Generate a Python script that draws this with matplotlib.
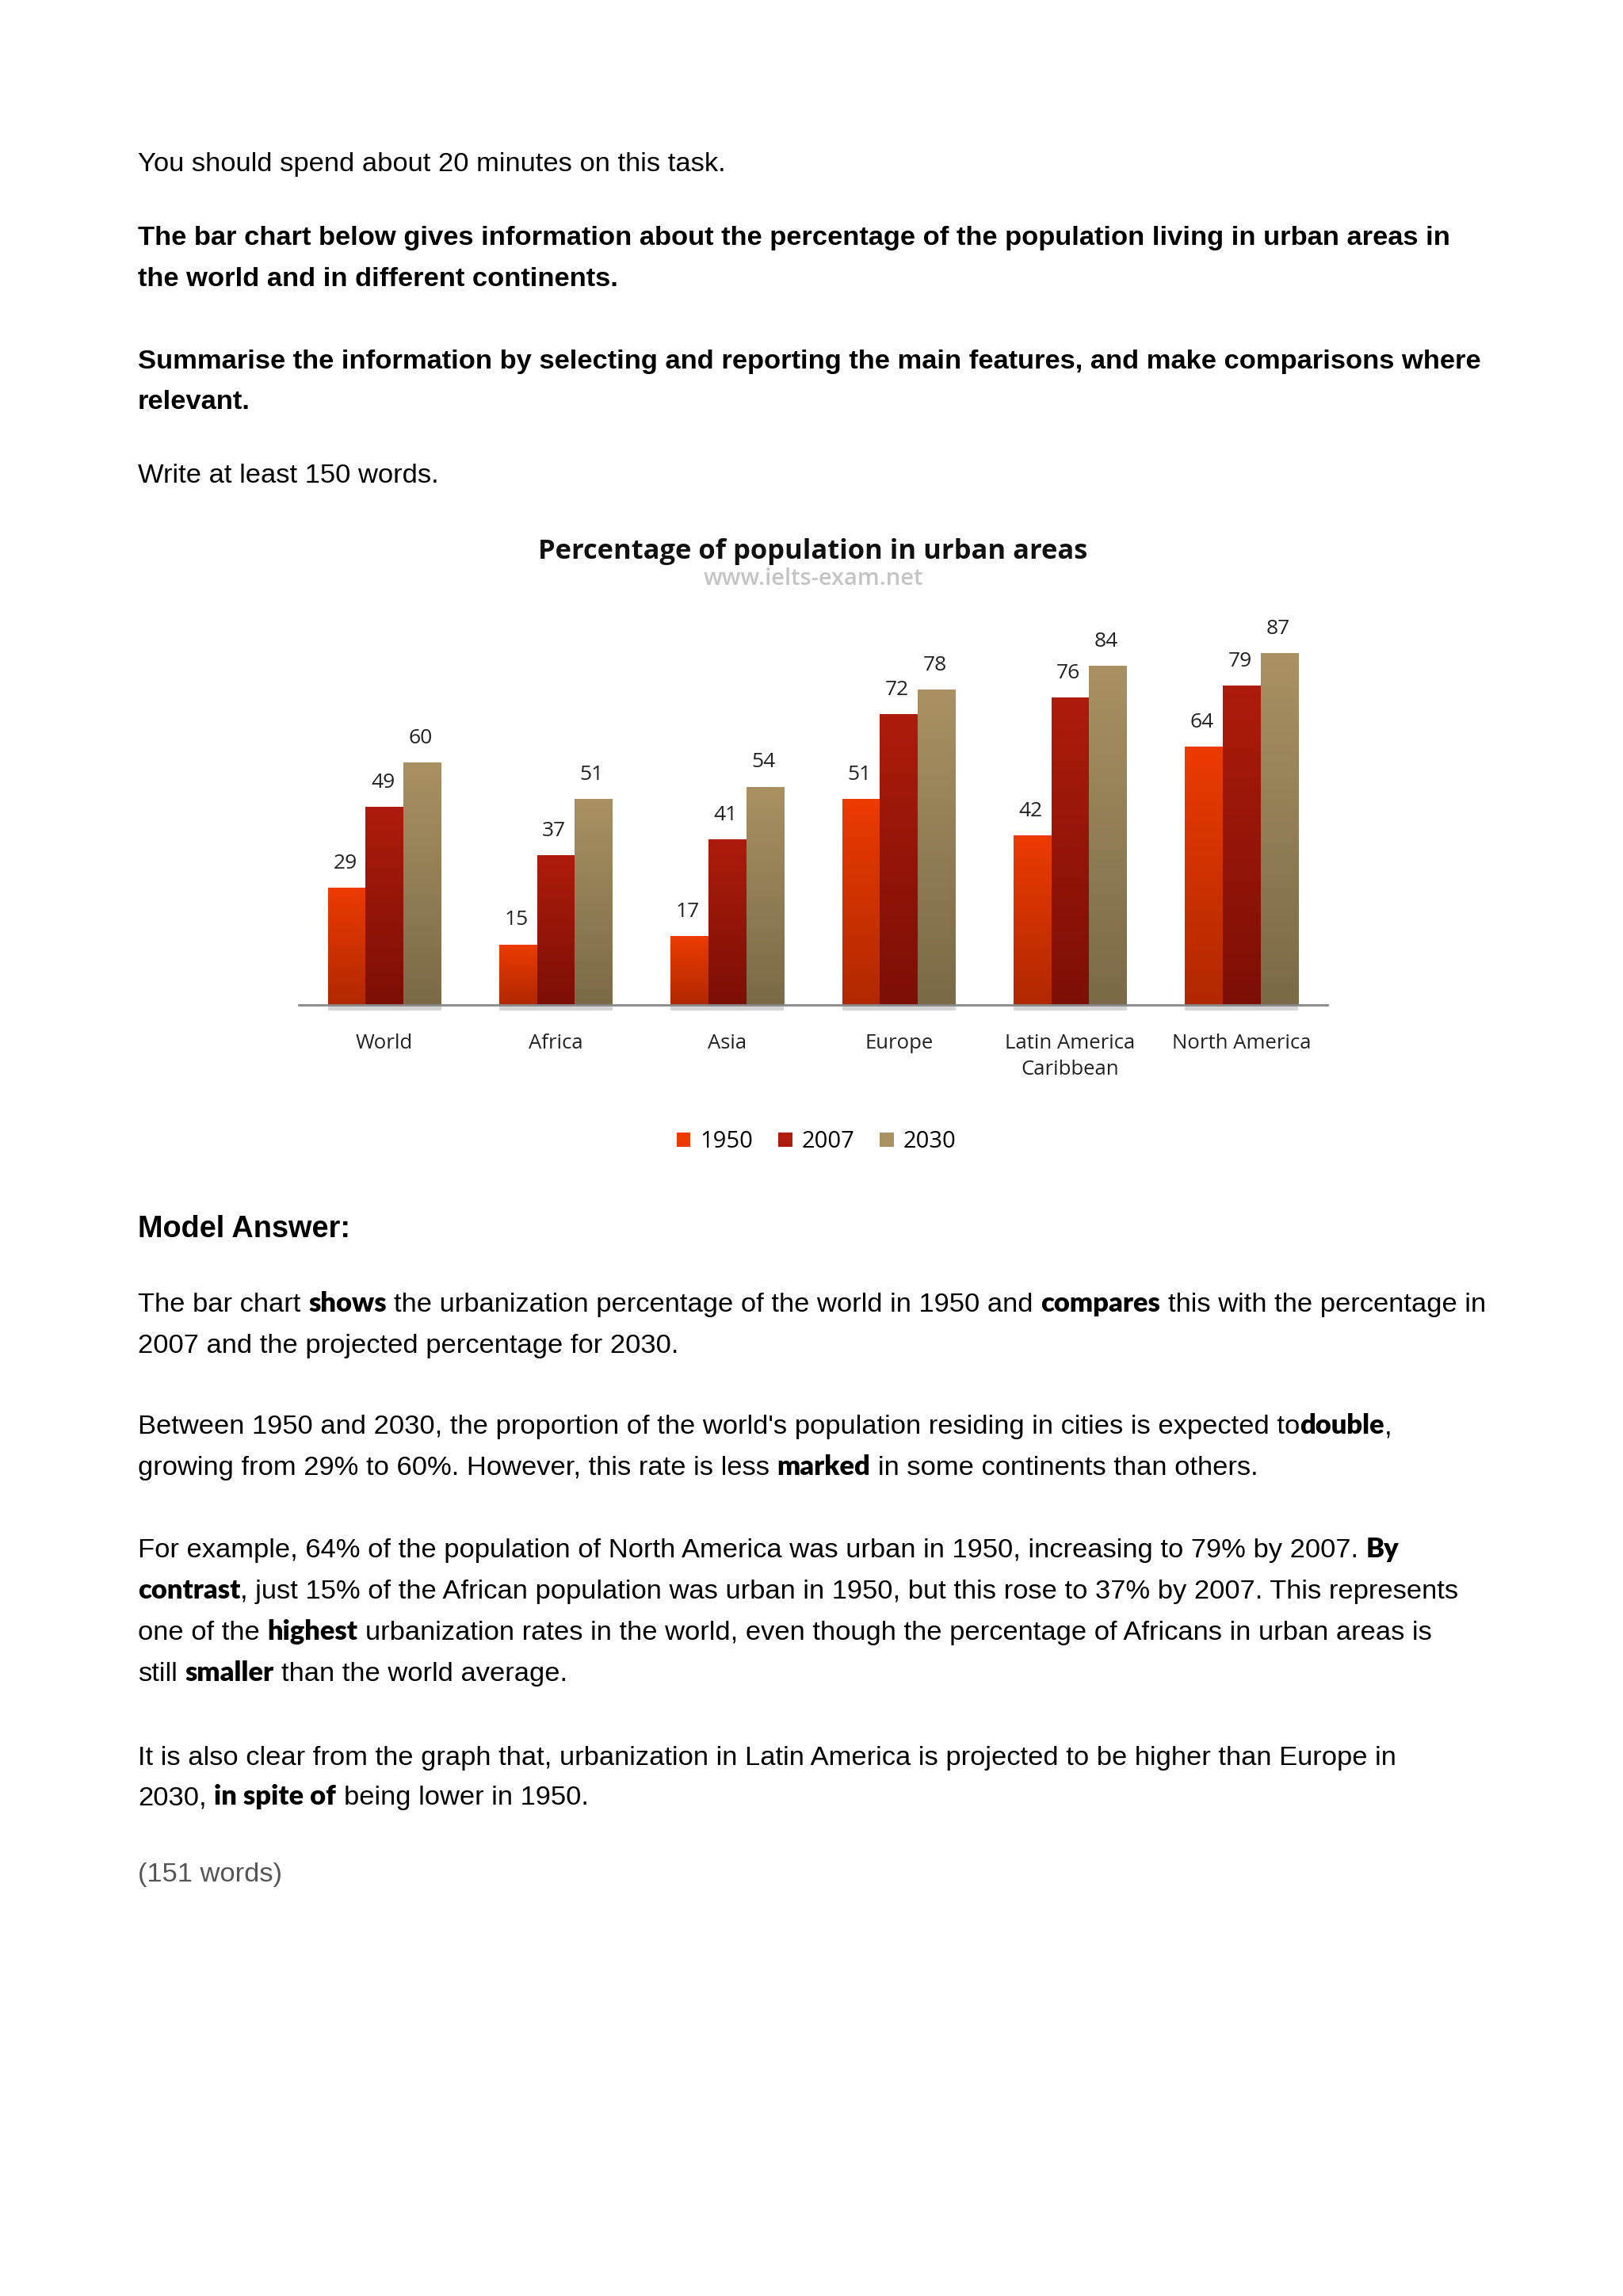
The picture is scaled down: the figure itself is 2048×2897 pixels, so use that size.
import numpy as np
import matplotlib
matplotlib.use('Agg')
import matplotlib.pyplot as plt
from matplotlib.colors import LinearSegmentedColormap
from matplotlib.patches import Patch

W, H = 2048, 2897

categories = ['World', 'Africa', 'Asia', 'Europe', 'Latin America\nCaribbean', 'North America']
years = ['1950', '2007', '2030']
values_1950 = [29, 15, 17, 51, 42, 64]
values_2007 = [49, 37, 41, 72, 76, 79]
values_2030 = [60, 51, 54, 78, 84, 87]

# top / bottom colour of each series gradient
grad_colors = [('#ec3b00', '#b02800'), ('#ad1c0c', '#7c0f05'), ('#a99162', '#7b6a47')]

BODY = 'Liberation Sans'
BOLDW = 'Lato'
CHART = 'Open Sans'
FS = 24.8


def fx(x):
    return x / W


def fy(y):
    return 1 - y / H


def space_width(fig, renderer, family, size, weight):
    t1 = fig.text(0, 0, 'x x', family=family, fontsize=size, weight=weight)
    t2 = fig.text(0, 0, 'xx', family=family, fontsize=size, weight=weight)
    w = t1.get_window_extent(renderer).width - t2.get_window_extent(renderer).width
    t1.remove()
    t2.remove()
    return w


def rich_line(fig, renderer, x, y, runs, size=FS):
    # runs: list of (text, bold) drawn one after another
    spaces = {}
    for text, bold in runs:
        fam = BOLDW if bold else BODY
        wt = 'heavy' if bold else 'normal'
        key = (fam, wt)
        if key not in spaces:
            spaces[key] = space_width(fig, renderer, fam, size, wt)
        sw = spaces[key]
        lead = len(text) - len(text.lstrip(' '))
        trail = len(text) - len(text.rstrip(' '))
        x += lead * sw
        core = text.strip(' ')
        if core:
            t = fig.text(fx(x), fy(y), core, family=fam, fontsize=size, weight=wt,
                         va='baseline', ha='left', color='black')
            x += t.get_window_extent(renderer).width
        x += trail * sw
    return x


def gradient_bars(ax, bars, top, bottom):
    cmap = LinearSegmentedColormap.from_list('g', [bottom, top])
    grad = np.linspace(0, 1, 256).reshape(-1, 1)
    for b in bars:
        x0, y0 = b.get_x(), b.get_y()
        im = ax.imshow(grad, extent=(x0, x0 + b.get_width(), y0, y0 + b.get_height()),
                       origin='lower', aspect='auto', cmap=cmap, zorder=3)
        im.set_clip_path(b)


def main():
    fig = plt.figure(figsize=(W / 100, H / 100), dpi=100)
    fig.patch.set_facecolor('white')
    renderer = fig.canvas.get_renderer()

    # header text
    fig.text(fx(174), fy(216), 'You should spend about 20 minutes on this task.',
             family=BODY, fontsize=FS, va='baseline')
    fig.text(fx(174), fy(309), 'The bar chart below gives information about the percentage of the population living in urban areas in',
             family=BODY, fontsize=FS, weight='bold', va='baseline')
    fig.text(fx(174), fy(361), 'the world and in different continents.',
             family=BODY, fontsize=FS, weight='bold', va='baseline')
    fig.text(fx(174), fy(465), 'Summarise the information by selecting and reporting the main features, and make comparisons where',
             family=BODY, fontsize=FS, weight='bold', va='baseline')
    fig.text(fx(174), fy(516), 'relevant.',
             family=BODY, fontsize=FS, weight='bold', va='baseline')
    fig.text(fx(174), fy(609), 'Write at least 150 words.',
             family=BODY, fontsize=FS, va='baseline')

    # chart
    ax = fig.add_axes([fx(377), fy(1268), (1675 - 377) / W, 510 / H])
    x = np.arange(len(categories))
    bw = 0.22
    series = [values_1950, values_2007, values_2030]
    for i, vals in enumerate(series):
        bars = ax.bar(x + (i - 1) * bw, vals, bw, color=grad_colors[i][0], zorder=2, linewidth=0)
        gradient_bars(ax, bars, *grad_colors[i])
        for b, v in zip(bars, vals):
            ax.text(b.get_x() + b.get_width() / 2 - 0.01, v + 6, str(v), ha='center', va='center',
                    family=CHART, fontsize=19, color='#222222')
        # soft shadow under the bars
        for b in bars:
            ax.add_patch(plt.Rectangle((b.get_x(), -1.4), b.get_width(), 1.4, color='#d6d6d6',
                                       zorder=1, clip_on=False, linewidth=0))
    ax.set_xlim(-0.5, 5.5)
    ax.set_ylim(0, 100)
    for s in ['top', 'right', 'left']:
        ax.spines[s].set_visible(False)
    ax.spines['bottom'].set_color('#888888')
    ax.spines['bottom'].set_linewidth(2)
    ax.spines['bottom'].set_zorder(5)
    ax.set_yticks([])
    ax.set_xticks(x)
    ax.set_xticklabels(categories, family=CHART, fontsize=18.5, color='#222222', linespacing=1.4, va='top')
    ax.tick_params(axis='x', length=0, pad=26)
    ax.patch.set_alpha(0)

    fig.text(fx(1026), fy(696), 'Percentage of population in urban areas', ha='center', va='center',
             family=CHART, fontsize=24.8, weight='bold', color='#111111')
    fig.text(fx(1026), fy(731), 'www.ielts-exam.net', ha='center', va='center',
             family=CHART, fontsize=21, weight='semibold', color='#c4c4c4')

    handles = [Patch(facecolor=grad_colors[i][0], edgecolor='none') for i in range(3)]
    fig.legend(handles, years, loc='center', bbox_to_anchor=(fx(1030), fy(1441)), ncol=3,
               frameon=False, handlelength=0.6, handleheight=0.6, handletextpad=0.4, columnspacing=1.1,
               prop={'family': CHART, 'size': 21})

    # model answer
    fig.text(fx(174), fy(1561), 'Model Answer:', family=BODY, fontsize=27.3, weight='bold', va='baseline')

    lines = [
        (1655, [('The bar chart ', 0), ('shows', 1), (' the urbanization percentage of the world in 1950 and ', 0),
                ('compares', 1), (' this with the percentage in', 0)]),
        (1707, [('2007 and the projected percentage for 2030.', 0)]),
        (1809, [("Between 1950 and 2030, the proportion of the world's population residing in cities is expected to", 0),
                ('double', 1), (',', 0)]),
        (1861, [('growing from 29% to 60%. However, this rate is less ', 0), ('marked', 1),
                (' in some continents than others.', 0)]),
        (1965, [('For example, 64% of the population of North America was urban in 1950, increasing to 79% by 2007. ', 0),
                ('By', 1)]),
        (2017, [('contrast', 1), (', just 15% of the African population was urban in 1950, but this rose to 37% by 2007. This represents', 0)]),
        (2069, [('one of the ', 0), ('highest', 1), (' urbanization rates in the world, even though the percentage of Africans in urban areas is', 0)]),
        (2121, [('still ', 0), ('smaller', 1), (' than the world average.', 0)]),
        (2227, [('It is also clear from the graph that, urbanization in Latin America is projected to be higher than Europe in', 0)]),
        (2277, [('2030, ', 0), ('in spite of', 1), (' being lower in 1950.', 0)]),
    ]
    for y, runs in lines:
        rich_line(fig, renderer, 174, y, runs)

    fig.text(fx(174), fy(2374), '(151 words)', family=BODY, fontsize=FS, color='#555555', va='baseline')

    fig.savefig('out.png', dpi=100, facecolor='white')


if __name__ == '__main__':
    main()
